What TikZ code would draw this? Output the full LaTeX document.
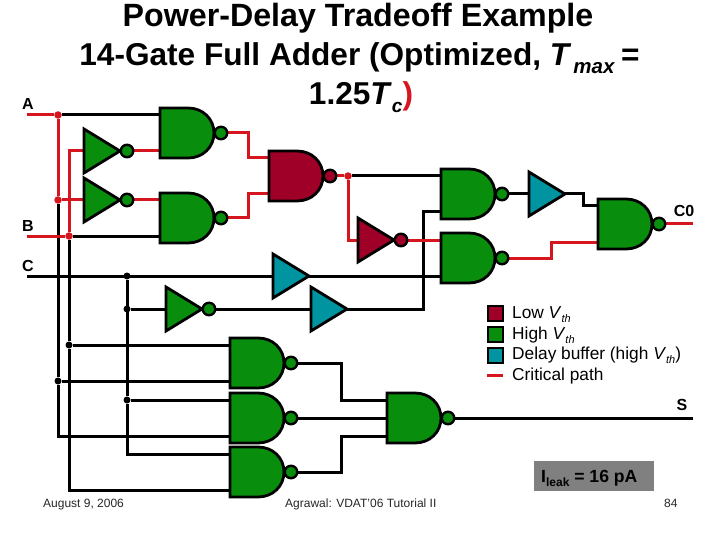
\documentclass[tikz,border=0pt]{standalone}
\usepackage{fontspec}
\usetikzlibrary{backgrounds}
\setmainfont{Liberation Sans}
\definecolor{hiV}{RGB}{8,142,12}
\definecolor{loV}{RGB}{158,0,40}
\definecolor{dlV}{RGB}{0,148,160}
\definecolor{crit}{RGB}{214,22,30}
\definecolor{wire}{RGB}{0,0,0}
\definecolor{leakbox}{RGB}{128,128,128}
\newcommand{\fs}[1]{\fontsize{#1}{#1}\selectfont}
% subscript: size, text
\newcommand{\lowsub}[2]{\raisebox{-0.24em}{\fs{#1}#2}}
% name, left x, centre y, fill
\newcommand{\nandgate}[4]{%
  \draw[gatebody,fill=#4] (#2,#3-25) -- (#2+28,#3-25)
    .. controls (#2+43,#3-25) and (#2+54,#3-14) .. (#2+54,#3)
    .. controls (#2+54,#3+14) and (#2+43,#3+25) .. (#2+28,#3+25)
    -- (#2,#3+25) -- cycle;
  \node[bubble,fill=#4] (#1) at (#2+61,#3) {};
  \coordinate (#1-a) at (#2,#3-18);
  \coordinate (#1-c) at (#2,#3);
  \coordinate (#1-b) at (#2,#3+18);
  \coordinate (#1-o) at (#1.east);
}
\newcommand{\invgate}[4]{%
  \draw[gatebody,fill=#4] (#2,#3-22) -- (#2+36,#3) -- (#2,#3+22) -- cycle;
  \node[bubble,fill=#4] (#1) at (#2+43,#3) {};
  \coordinate (#1-i) at (#2,#3);
  \coordinate (#1-o) at (#1.east);
}
\newcommand{\bufgate}[4]{%
  \draw[gatebody,fill=#4] (#2,#3-22) -- (#2+36,#3) -- (#2,#3+22) -- cycle;
  \coordinate (#1-i) at (#2,#3);
  \coordinate (#1-o) at (#2+36,#3);
}
\tikzset{
  gatebody/.style={draw=black,line width=2.8pt,line join=miter},
  bubble/.style={circle,draw=black,line width=2.4pt,inner sep=0pt,minimum size=12.5pt},
  blackwire/.style={draw=wire,line width=3pt,line join=miter},
  redwire/.style={draw=crit,line width=3pt,line join=miter},
  redthin/.style={draw=crit,line width=3pt,line join=miter},
  reddot/.style={circle,fill=crit,inner sep=0pt,minimum size=7.5pt},
  blackdot/.style={circle,fill=black,inner sep=0pt,minimum size=7pt},
  pinlabel/.style={font=\fs{16}\bfseries,inner sep=0pt},
  legendtext/.style={font=\fs{17.3},anchor=base west,inner sep=0pt},
  legendbox/.style={draw=black,line width=2.6pt,minimum size=15pt,inner sep=0pt},
  foottext/.style={font=\fs{12},anchor=base west,inner sep=0pt,text=black!85},
}
\begin{document}
\begin{tikzpicture}[x=1pt,y=-1pt]
\useasboundingbox (0,0) rectangle (720,540);
% terminals and junctions
\coordinate (inA) at (27,115);
\coordinate (inB) at (27,236);
\coordinate (inC) at (27,276);
\coordinate (outC0) at (693,224);
\coordinate (outS) at (693,418);
\coordinate (xb) at (69,0);
\coordinate (xm) at (248,0);
\coordinate (xs) at (423,0);
\coordinate (xt) at (583,0);
\coordinate (xu) at (551,0);
\coordinate (xv) at (341,0);
\node[reddot] (dA) at (58,115) {};
\node[reddot] (dA2) at (58,200) {};
\node[reddot] (dB) at (69,236) {};
\node[reddot] (dR) at (348,176) {};
\node[blackdot] (dC) at (127,276) {};
\node[blackdot] (dC2) at (127,309) {};
\node[blackdot] (dC3) at (127,400) {};
\node[blackdot] (dB2) at (69,345) {};
\node[blackdot] (dA3) at (58,381) {};
% gates
\nandgate{na}{160}{133}{hiV}
\nandgate{nb}{160}{218}{hiV}
\nandgate{nr}{269}{176}{loV}
\nandgate{nc}{441}{194}{hiV}
\nandgate{nd}{441}{258}{hiV}
\nandgate{ne}{598}{224}{hiV}
\nandgate{nf}{230}{363}{hiV}
\nandgate{ng}{230}{418}{hiV}
\nandgate{nh}{230}{472}{hiV}
\nandgate{ns}{387}{418}{hiV}
\invgate{ia}{84}{151}{hiV}
\invgate{ib}{84}{200}{hiV}
\invgate{ir}{358}{240}{loV}
\invgate{ic}{166}{309}{hiV}
\bufgate{ba}{529}{194}{dlV}
\bufgate{bc}{273}{276}{dlV}
\bufgate{bd}{311}{309}{dlV}
\begin{pgfonlayer}{background}
% black wires
\draw[blackwire] (dA) -- (na-a);
\draw[blackwire] (dB) -- (nb-b);
\draw[blackwire] (dA2) -- (dA3) |- (ng-b);
\draw[blackwire] (dB) -- (dB2) |- (nh-b);
\draw[blackwire] (dB2) -- (nf-a);
\draw[blackwire] (dA3) -- (nf-b);
\draw[blackwire] (inC) -- (bc-i);
\draw[blackwire] (dC) -- (dC3) |- (nh-a);
\draw[blackwire] (dC2) -- (ic-i);
\draw[blackwire] (dC3) -- (ng-a);
\draw[blackwire] (ic-o) -- (bd-i);
\draw[blackwire] (bc-o) -- (nd-b);
\draw[blackwire] (bd-o) -| (xs |- nc-b) -- (nc-b);
\draw[blackwire] (dR) -- (nc-a);
\draw[blackwire] (nc-o) -- (ba-i);
\draw[blackwire] (ba-o) -| (xt |- ne-a) -- (ne-a);
\draw[blackwire] (nf-o) -| (xv |- ns-a) -- (ns-a);
\draw[blackwire] (ng-o) -- (ns-c);
\draw[blackwire] (nh-o) -| (xv |- ns-b) -- (ns-b);
\draw[blackwire] (ns-o) -- (outS);
% critical path
\draw[redwire] (inA) -- (dA);
\draw[redwire] (inB) -- (dB);
\draw[redwire] (dA) -- (dA2) -- (ib-i);
\draw[redwire] (dB) -- (xb |- ia-i) -- (ia-i);
\draw[redthin] (ia-o) -- (na-b);
\draw[redthin] (ib-o) -- (nb-a);
\draw[redwire] (na-o) -| (xm |- nr-a) -- (nr-a);
\draw[redthin] (nb-o) -| (xm |- nr-b) -- (nr-b);
\draw[redthin] (nr-o) -- (dR);
\draw[redwire] (dR) |- (ir-i);
\draw[redwire] (ir-o) -- (nd-a);
\draw[redwire] (nd-o) -| (xu |- ne-b) -- (ne-b);
\draw[redwire] (ne-o) -- (outC0);
\end{pgfonlayer}
% labels
\node[pinlabel] (lA) at (28,104) {A};
\node[pinlabel] (lB) at (28,226) {B};
\node[pinlabel] (lC) at (28,266) {C};
\node[pinlabel] (lC0) at (684,211) {C0};
\node[pinlabel] (lS) at (682,405) {S};
% title
\node[font=\fs{32.2}\bfseries,anchor=base,inner sep=0pt] (t1) at (358,27) {Power-Delay Tradeoff Example};
\node[font=\fs{31.6}\bfseries,anchor=base,inner sep=0pt] (t2) at (359.5,66) {14-Gate Full Adder (Optimized, \textit{T}\hspace{2pt}\lowsub{20.5}{\textit{max}}\hspace{6pt}=};
\node[font=\fs{31.6}\bfseries,anchor=base,inner sep=0pt] (t3) at (361,105) {1.25\textit{T}\lowsub{19}{\textit{c}}\textcolor{crit}{)}};
% legend
\node[legendbox,fill=loV] (k1) at (495.5,313.5) {};
\node[legendbox,fill=hiV] (k2) at (495.5,334.5) {};
\node[legendbox,fill=dlV] (k3) at (495.5,355.5) {};
\coordinate (k4a) at (487,375);
\coordinate (k4b) at (503,375);
\draw[redwire] (k4a) -- (k4b);
\node[legendtext] (l1) at (512,318) {Low \textit{V}\lowsub{11}{\textit{th}}};
\node[legendtext] (l2) at (512,339) {High \textit{V}\lowsub{11}{\textit{th}}};
\node[legendtext] (l3) at (512,359.5) {Delay buffer (high \textit{V}\lowsub{11}{\textit{th}})};
\node[legendtext] (l4) at (512,380.5) {Critical path};
% leakage box
\fill[leakbox] (534,461) rectangle (654,491);
\node[font=\fs{17.6}\bfseries,anchor=base west,inner sep=0pt] (lk) at (541,482) {I\lowsub{12}{leak} = 16 pA};
% footer
\node[foottext] (f1) at (43,507) {August 9, 2006};
\node[foottext] (f2) at (285,507) {Agrawal: VDAT'06 Tutorial II};
\node[foottext] (f3) at (664,507) {84};
\end{tikzpicture}
\end{document}
